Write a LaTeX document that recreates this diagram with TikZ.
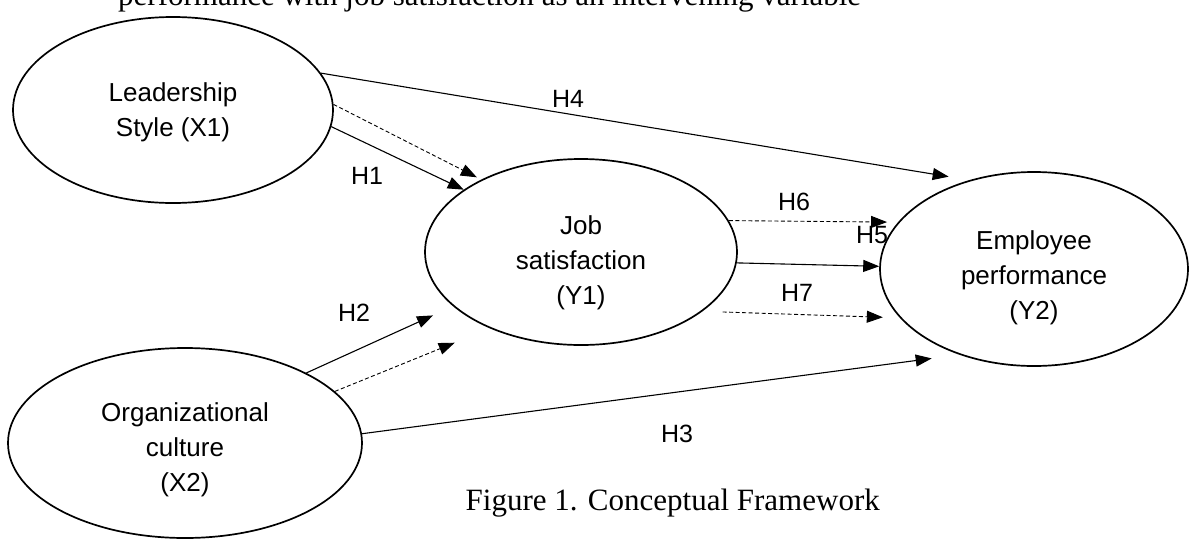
\documentclass[tikz,border=0pt]{standalone}
\usepackage{fontspec}
\setmainfont{Liberation Serif}
\newfontfamily\arialfont{Liberation Sans}
\usepackage{tikz}
\usetikzlibrary{arrows.meta,shapes.geometric}
\tikzset{
  construct/.style = {shape=ellipse, draw, line width=1.7pt, inner sep=0pt},
  varname/.style   = {align=center, inner sep=0pt,
                      font=\arialfont\fontsize{26}{35}\selectfont},
  hyp/.style       = {inner sep=0pt, font=\arialfont\fontsize{25}{30}\selectfont},
  direct/.style    = {draw, line width=1.1pt,
                      -{Triangle[length=16pt,width=12pt]}},
  mediated/.style  = {direct, line width=0.9pt, dash pattern=on 4pt off 2.5pt},
  bodytext/.style  = {inner sep=0pt, font=\fontsize{31}{36}\selectfont}
}

\begin{document}
\begin{tikzpicture}[x=1pt, y=-1pt]
\useasboundingbox (0,0) rectangle (1189,539);

% heading line, cut by the page edge
\node [bodytext, anchor=base west] (head) at (118,5)
  {performance with job satisfaction as an intervening variable};

% constructs
\node [construct, minimum width=320pt, minimum height=186pt,
       label={[varname, yshift=-2pt]center:Leadership\\Style (X1)}] (ls) at (173,110) {};
\node [construct, minimum width=354pt, minimum height=190pt,
       label={[varname, yshift=-7pt]center:Organizational\\culture\\(X2)}] (oc) at (185,443) {};
\node [construct, minimum width=312pt, minimum height=186pt,
       label={[varname, yshift=-11pt]center:Job\\satisfaction\\(Y1)}] (js) at (581,252) {};
\node [construct, minimum width=308pt, minimum height=194pt,
       label={[varname, yshift=-9pt]center:Employee\\performance\\(Y2)}] (ep) at (1034,269) {};

% hypotheses
\draw [direct] (ls.14) -- (ep.126) [shorten >=21pt];
\draw [direct] (ls.-6) -- (js.152);
\draw [mediated] (ls.2) -- (js.144) [shorten >=5pt];
\draw [direct] (oc.30) -- (js.203) [shorten >=22pt];
\draw [mediated] (oc.19) -- (js.220) [shorten >=38pt];
\draw [direct] (oc.3) -- (ep.229) [shorten >=28pt];
\draw [mediated] (js.12) -- (ep.161) [shorten >=11pt];
\draw [direct] (js.-4) -- (ep.179);
\draw [mediated] (js.-26) -- (ep.200) [shorten <=20pt, shorten >=17pt];

\node [hyp] (h4) at (568,99) {H4};
\node [hyp] (h1) at (367,176) {H1};
\node [hyp] (h6) at (794,202) {H6};
\node [hyp] (h5) at (872,235) {H5};
\node [hyp] (h7) at (797,293) {H7};
\node [hyp] (h2) at (354,313) {H2};
\node [hyp] (h3) at (677,434) {H3};

\node [bodytext, anchor=base east] (caption) at (880,510)
  {Figure 1. Conceptual Framework};
\end{tikzpicture}
\end{document}
